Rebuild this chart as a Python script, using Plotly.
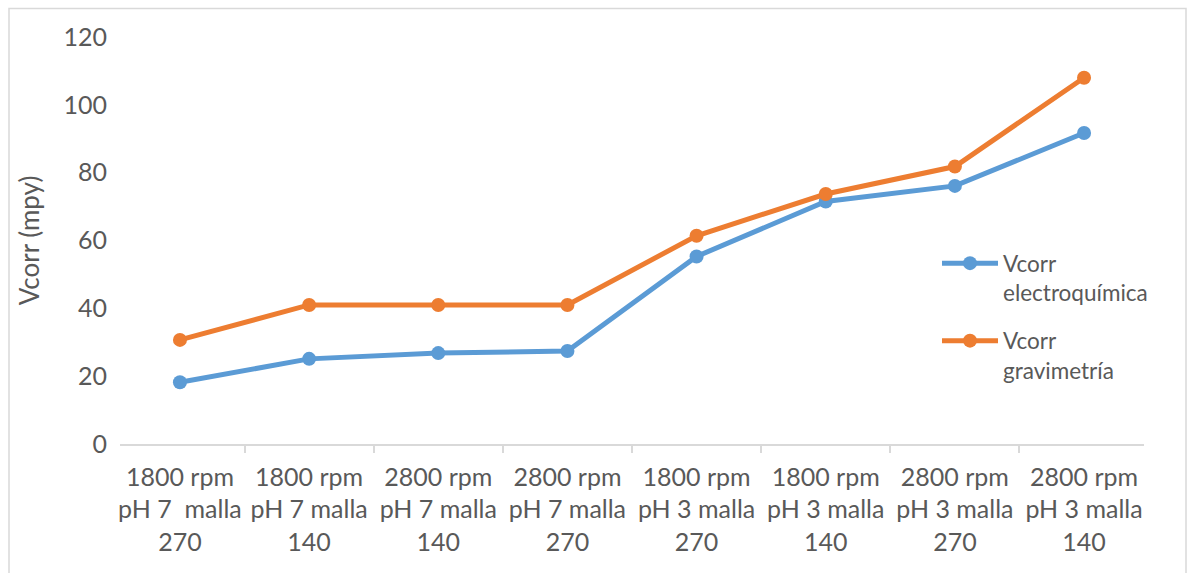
import plotly.graph_objects as go

categories = [
    "1800 rpm<br>pH 7  malla<br>270",
    "1800 rpm<br>pH 7 malla<br>140",
    "2800 rpm<br>pH 7 malla<br>140",
    "2800 rpm<br>pH 7 malla<br>270",
    "1800 rpm<br>pH 3 malla<br>270",
    "1800 rpm<br>pH 3 malla<br>140",
    "2800 rpm<br>pH 3 malla<br>270",
    "2800 rpm<br>pH 3 malla<br>140",
]
vcorr_electro = [18.2, 25.1, 26.8, 27.4, 55.3, 71.5, 76.1, 91.7]
vcorr_gravi = [30.7, 41.0, 41.0, 41.0, 61.4, 73.7, 81.8, 108.0]
y_ticks = [0, 20, 40, 60, 80, 100, 120]

FONT = "Lato"
TXT = "#595959"

fig = go.Figure()
fig.add_trace(go.Scatter(
    x=categories, y=vcorr_electro, mode="lines+markers",
    name="Vcorr<br>electroquímica", legendgroup="a",
    line=dict(color="#5B9BD5", width=5),
    marker=dict(color="#5B9BD5", size=14),
))
fig.add_trace(go.Scatter(
    x=categories, y=vcorr_gravi, mode="lines+markers",
    name="Vcorr<br>gravimetría", legendgroup="b",
    line=dict(color="#ED7D31", width=5),
    marker=dict(color="#ED7D31", size=14),
))

L, R, T, B = 120, 43, 37, 129
W, H = 1187, 573
pw, ph = W - L - R, H - T - B

def px(x):
    return (x - L) / pw

def py(y):
    return (H - B - y) / ph

fig.update_layout(
    width=W, height=H,
    margin=dict(l=L, r=R, t=T, b=B, autoexpand=False),
    paper_bgcolor="white", plot_bgcolor="white",
    font=dict(family=FONT, color=TXT, size=24),
    showlegend=True,
    legend=dict(
        x=px(937), y=py(242), xanchor="left", yanchor="top",
        font=dict(family=FONT, size=22.5, color=TXT),
        valign="top", itemwidth=56, tracegroupgap=16,
        traceorder="grouped", bgcolor="rgba(0,0,0,0)",
    ),
    xaxis=dict(
        type="category", showgrid=False, showline=True,
        linecolor="#d9d9d9", linewidth=1.5,
        ticks="outside", tickson="boundaries", ticklen=7,
        tickcolor="#d9d9d9", tickwidth=1.5,
        tickfont=dict(family=FONT, size=25, color=TXT),
        tickangle=0, automargin=False,
        ticklabelstandoff=10,
        fixedrange=True,
    ),
    yaxis=dict(
        range=[0, 120], tickvals=y_ticks, showgrid=False,
        zeroline=False, showline=False, ticks="",
        tickfont=dict(family=FONT, size=25, color=TXT),
        ticklabelstandoff=12, automargin=False,
        title=dict(text="Vcorr (mpy)", font=dict(family=FONT, size=26, color=TXT), standoff=16),
        fixedrange=True,
    ),
    shapes=[dict(
        type="rect", xref="paper", yref="paper",
        x0=px(9), x1=px(1186), y0=py(600), y1=py(8.5),
        line=dict(color="#d9d9d9", width=1.5), fillcolor="rgba(0,0,0,0)", layer="below",
    )],
)

fig.write_html("out.html")
